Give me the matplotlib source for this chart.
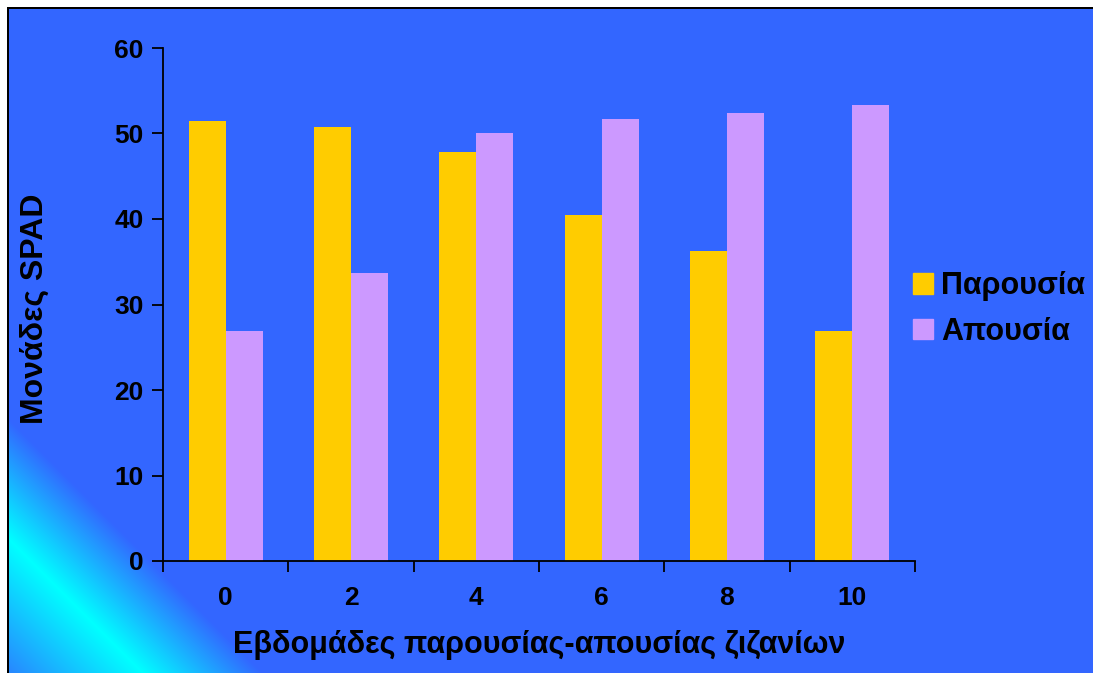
import numpy as np
import matplotlib
matplotlib.use("Agg")
import matplotlib.pyplot as plt
from matplotlib.patches import Patch

# data
weeks = ["0", "2", "4", "6", "8", "10"]
presence = [51.5, 50.8, 47.8, 40.5, 36.3, 26.9]
absence = [26.9, 33.7, 50.1, 51.7, 52.4, 53.3]
series_names = ["Παρουσία", "Απουσία"]

BLUE = "#3366FF"
YELLOW = "#FFCC00"
LILAC = "#CC99FF"

plt.rcParams["font.family"] = ["Liberation Sans", "DejaVu Sans"]
plt.rcParams["font.weight"] = "bold"

W, H = 1093, 673
fig = plt.figure(figsize=(W / 100, H / 100), dpi=100, facecolor="white")

# background: blue panel with a diagonal cyan glow in the lower-left corner
yy, xx = np.mgrid[0:H, 0:W]
t = yy - xx
w = np.clip((t - 410) / 120.0, 0, 1)
w = np.where(t > 530, np.clip((700 - t) / 170.0, 0, 1), w)
blue = np.array([0x33, 0x66, 0xFF]) / 255
cyan = np.array([0x00, 0xFF, 0xFF]) / 255
img = blue[None, None, :] * (1 - w[..., None]) + cyan[None, None, :] * w[..., None]
img[(xx < 7) | (yy < 7)] = 1.0
img[((xx >= 7) & (xx < 9) & (yy >= 7)) | ((yy >= 7) & (yy < 9) & (xx >= 7))] = 0.0
bg = fig.add_axes([0, 0, 1, 1], zorder=-10)
bg.imshow(img, aspect="auto", interpolation="nearest")
bg.axis("off")

ax = fig.add_axes([163 / W, 1 - 561 / H, (915 - 163) / W, (561 - 48) / H])
ax.patch.set_alpha(0)

x = np.arange(len(weeks))
bw = 0.295
ax.bar(x - bw / 2, presence, bw, color=YELLOW, label=series_names[0])
ax.bar(x + bw / 2, absence, bw, color=LILAC, label=series_names[1])

ax.set_xlim(-0.5, len(weeks) - 0.5)
ax.set_ylim(0, 60)
ax.set_yticks(range(0, 61, 10))
# category boundaries get the tick marks, labels sit between them
ax.set_xticks(np.arange(-0.5, len(weeks), 1.0))
ax.set_xticklabels([])
ax.set_xticks(x, minor=True)
ax.set_xticklabels(weeks, minor=True)
ax.tick_params(axis="x", which="major", direction="out", length=8, width=1.3)
ax.tick_params(axis="x", which="minor", length=0, pad=18, labelsize=19)
ax.tick_params(axis="y", direction="out", length=8, width=1.3, pad=6, labelsize=19)

for s in ["top", "right"]:
    ax.spines[s].set_visible(False)
for s in ["left", "bottom"]:
    ax.spines[s].set_linewidth(1.3)

fig.text(35 / W, 1 - 309 / H, "Μονάδες SPAD", rotation=90, ha="center", va="center",
         fontsize=23, fontweight="bold")
fig.text(539 / W, 1 - 645 / H, "Εβδομάδες παρουσίας-απουσίας ζιζανίων", ha="center",
         va="center", fontsize=22, fontweight="bold")

handles = [Patch(color=YELLOW), Patch(color=LILAC)]
fig.legend(handles, series_names, loc="center left", bbox_to_anchor=(913 / W, 1 - 309 / H),
           frameon=False, fontsize=22, handlelength=0.66, handleheight=0.66,
           handletextpad=0.26, labelspacing=0.5, borderpad=0, borderaxespad=0)

fig.savefig("out.png", dpi=100, facecolor="white")
